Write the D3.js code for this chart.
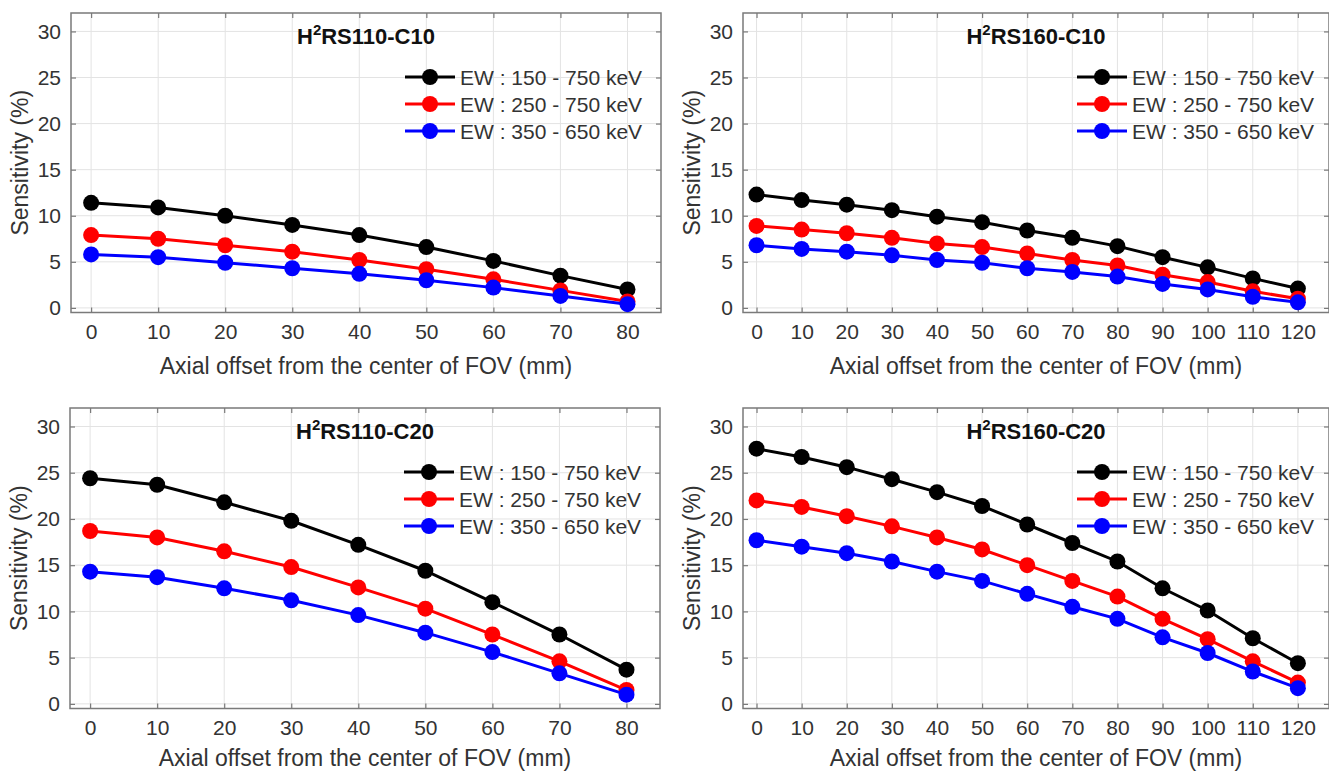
<!DOCTYPE html>
<html>
<head>
<meta charset="utf-8">
<script src="https://cdn.jsdelivr.net/npm/d3@7"></script>
<style>
  body { margin: 0; background: #fff; }
  svg { display: block; font-family: "Liberation Sans", Arial, sans-serif; }
</style>
</head>
<body>
<div id="chart"></div>
<script>
// offsets (mm)
const offsets80 = [0, 10, 20, 30, 40, 50, 60, 70, 80];
const offsets120 = [0, 10, 20, 30, 40, 50, 60, 70, 80, 90, 100, 110, 120];

const seriesNames = ["EW : 150 - 750 keV", "EW : 250 - 750 keV", "EW : 350 - 650 keV"];
const seriesColors = ["#000000", "#ff0000", "#0000ff"];
const yTicks = [0, 5, 10, 15, 20, 25, 30];

// H2RS110-C10
const c110c10Black = [11.4, 10.9, 10.0, 9.0, 7.9, 6.6, 5.1, 3.5, 2.0];
const c110c10Red = [7.9, 7.5, 6.8, 6.1, 5.2, 4.2, 3.1, 1.9, 0.7];
const c110c10Blue = [5.8, 5.5, 4.9, 4.3, 3.7, 3.0, 2.2, 1.3, 0.4];

// H2RS160-C10
const c160c10Black = [12.3, 11.7, 11.2, 10.6, 9.9, 9.3, 8.4, 7.6, 6.7, 5.5, 4.4, 3.2, 2.1];
const c160c10Red = [8.9, 8.5, 8.1, 7.6, 7.0, 6.6, 5.9, 5.2, 4.6, 3.6, 2.8, 1.8, 1.0];
const c160c10Blue = [6.8, 6.4, 6.1, 5.7, 5.2, 4.9, 4.3, 3.9, 3.4, 2.6, 2.0, 1.2, 0.6];

// H2RS110-C20
const c110c20Black = [24.4, 23.7, 21.8, 19.8, 17.2, 14.4, 11.0, 7.5, 3.7];
const c110c20Red = [18.7, 18.0, 16.5, 14.8, 12.6, 10.3, 7.5, 4.6, 1.5];
const c110c20Blue = [14.3, 13.7, 12.5, 11.2, 9.6, 7.7, 5.6, 3.3, 1.0];

// H2RS160-C20
const c160c20Black = [27.6, 26.7, 25.6, 24.3, 22.9, 21.4, 19.4, 17.4, 15.4, 12.5, 10.1, 7.1, 4.4];
const c160c20Red = [22.0, 21.3, 20.3, 19.2, 18.0, 16.7, 15.0, 13.3, 11.6, 9.2, 7.0, 4.6, 2.3];
const c160c20Blue = [17.7, 17.0, 16.3, 15.4, 14.3, 13.3, 11.9, 10.5, 9.2, 7.2, 5.5, 3.5, 1.7];

const width = 1329, height = 773;
const textColor = "#333333";
const boxColor = "#7a7a7a";
const gridColor = "#e3e3e3";

const svg = d3.select("#chart")
  .append("svg")
  .attr("width", width)
  .attr("height", height);

const panels = [
  { num: "110-C10", x: offsets80, xMax: 85, ys: [c110c10Black, c110c10Red, c110c10Blue],
    left: 71, right: 661, top: 13, bottom: 312.5, labelGap: 61 },
  { num: "160-C10", x: offsets120, xMax: 126.9, ys: [c160c10Black, c160c10Red, c160c10Blue],
    left: 743, right: 1329, top: 13, bottom: 312.5, labelGap: 61 },
  { num: "110-C20", x: offsets80, xMax: 85, ys: [c110c20Black, c110c20Red, c110c20Blue],
    left: 70, right: 660, top: 408, bottom: 708.5, labelGap: 57 },
  { num: "160-C20", x: offsets120, xMax: 126.9, ys: [c160c20Black, c160c20Red, c160c20Blue],
    left: 743, right: 1329, top: 408, bottom: 708.5, labelGap: 57 }
];

panels.forEach(drawPanel);

function drawPanel(p) {
  var x = d3.scaleLinear().domain([-3, p.xMax]).range([p.left, p.right]);
  var y = d3.scaleLinear().domain([-0.5, 32]).range([p.bottom, p.top]);

  var g = svg.append("g");

  // grid
  g.append("g")
    .selectAll("line")
    .data(p.x)
    .enter()
    .append("line")
    .attr("x1", d => x(d)).attr("x2", d => x(d))
    .attr("y1", p.top).attr("y2", p.bottom)
    .attr("stroke", gridColor).attr("stroke-width", 1);

  g.append("g")
    .selectAll("line")
    .data(yTicks)
    .enter()
    .append("line")
    .attr("x1", p.left).attr("x2", p.right)
    .attr("y1", d => y(d)).attr("y2", d => y(d))
    .attr("stroke", gridColor).attr("stroke-width", 1);

  // axes, ticks inward on all four sides
  var bottomAxis = d3.axisBottom(x).tickValues(p.x).tickSize(-5).tickPadding(12);
  var topAxis = d3.axisTop(x).tickValues(p.x).tickSize(-5).tickFormat("");
  var leftAxis = d3.axisLeft(y).tickValues(yTicks).tickSize(-5).tickPadding(10);
  var rightAxis = d3.axisRight(y).tickValues(yTicks).tickSize(-5).tickFormat("");

  [
    [bottomAxis, "translate(0," + p.bottom + ")"],
    [topAxis, "translate(0," + p.top + ")"],
    [leftAxis, "translate(" + p.left + ",0)"],
    [rightAxis, "translate(" + p.right + ",0)"]
  ].forEach(function(a) {
    var ax = g.append("g").attr("transform", a[1]).call(a[0]);
    ax.select(".domain").remove();
    ax.selectAll(".tick line").attr("stroke", boxColor).attr("stroke-width", 1.2);
    ax.selectAll(".tick text")
      .attr("fill", textColor)
      .style("font-size", "21px");
  });

  g.append("rect")
    .attr("x", p.left).attr("y", p.top)
    .attr("width", p.right - p.left).attr("height", p.bottom - p.top)
    .attr("fill", "none")
    .attr("stroke", boxColor)
    .attr("stroke-width", 1.5);

  // series
  var line = d3.line()
    .x(d => x(d[0]))
    .y(d => y(d[1]));

  p.ys.forEach(function(vals, i) {
    var pts = p.x.map((d, j) => [d, vals[j]]);
    g.append("path")
      .datum(pts)
      .attr("d", line)
      .attr("fill", "none")
      .attr("stroke", seriesColors[i])
      .attr("stroke-width", 3);
    g.append("g")
      .selectAll("circle")
      .data(pts)
      .enter()
      .append("circle")
      .attr("cx", d => x(d[0]))
      .attr("cy", d => y(d[1]))
      .attr("r", 8)
      .attr("fill", seriesColors[i]);
  });

  // title
  var title = g.append("text")
    .attr("x", (p.left + p.right) / 2)
    .attr("y", p.top + 31)
    .attr("text-anchor", "middle")
    .attr("fill", "#111")
    .style("font-weight", "bold")
    .style("font-size", "22px");
  title.append("tspan").text("H");
  title.append("tspan").attr("dy", -9).style("font-size", "15px").text("2");
  title.append("tspan").attr("dy", 9).text("RS" + p.num);

  // legend
  var legend = g.append("g")
    .attr("transform", "translate(" + (p.left + 334) + "," + (p.top + 64) + ")");
  var row = legend.selectAll("g")
    .data(seriesNames)
    .enter()
    .append("g")
    .attr("transform", (d, i) => "translate(0," + i * 27 + ")");
  row.append("line")
    .attr("x1", 0).attr("x2", 50)
    .attr("stroke", (d, i) => seriesColors[i])
    .attr("stroke-width", 3);
  row.append("circle")
    .attr("cx", 25)
    .attr("r", 8)
    .attr("fill", (d, i) => seriesColors[i]);
  row.append("text")
    .attr("x", 55)
    .attr("dy", "0.36em")
    .attr("fill", textColor)
    .style("font-size", "21px")
    .text(d => d);

  // axis labels
  g.append("text")
    .attr("x", (p.left + p.right) / 2)
    .attr("y", p.bottom + p.labelGap)
    .attr("text-anchor", "middle")
    .attr("fill", textColor)
    .style("font-size", "23px")
    .text("Axial offset from the center of FOV (mm)");

  g.append("text")
    .attr("transform", "translate(" + (p.left - 43) + "," + ((p.top + p.bottom) / 2) + ") rotate(-90)")
    .attr("text-anchor", "middle")
    .attr("fill", textColor)
    .style("font-size", "23px")
    .text("Sensitivity (%)");
}
</script>
</body>
</html>
